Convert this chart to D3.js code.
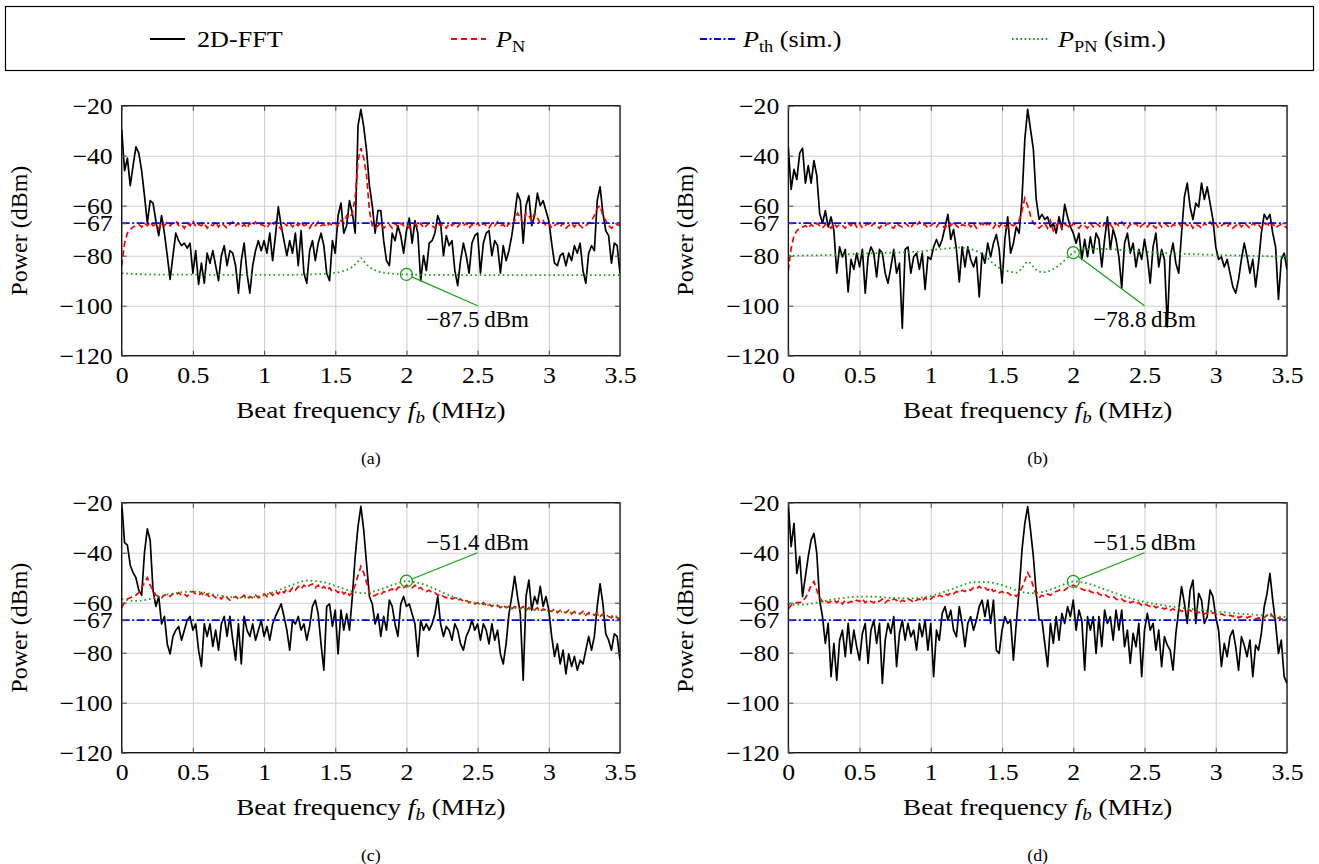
<!DOCTYPE html>
<html><head><meta charset="utf-8">
<script src="https://cdn.jsdelivr.net/npm/d3@7"></script>
<style>
body{margin:0;background:#fff;}
svg{display:block;font-family:"Liberation Serif","Times New Roman",serif;}
</style></head><body>
<svg id="chart" width="1319" height="864" font-family="Liberation Serif, Times New Roman, serif"></svg>
<script>
// ---------------- DATA ----------------
// sampling grid of the 2D-FFT / P_N curves (MHz): 0.00, 0.02, ... 3.50
const freqStep = 0.02;
const freq = d3.range(176).map(i => +(i * freqStep).toFixed(2));

const xTicks = [0, 0.5, 1, 1.5, 2, 2.5, 3, 3.5];
const xTickLabels = ["0", "0.5", "1", "1.5", "2", "2.5", "3", "3.5"];
const yTicks = [-120, -100, -80, -67, -60, -40, -20];
const yTickLabels = ["\u2212120", "\u2212100", "\u221280", "\u221267", "\u221260", "\u221240", "\u221220"];
const yGrid = [-120, -100, -80, -60, -40, -20];
const pTh = -67; // P_th (sim.) level, dBm

// (a)
const fftA = [
 -29.5,-46,-41,-52,-44,-36.5,-39,-46,-56,-67,
 -58,-59,-66,-72,-64,-71,-80,-89.5,-80,-71,
 -74,-76,-75,-77,-75,-87,-78,-91.5,-83,-91,
 -79,-83,-78,-84,-90,-80,-76,-84,-78,-79,
 -84,-95,-82,-75,-87,-95,-84,-78,-74,-78,
 -74,-79,-71,-82,-72,-60.5,-68,-74,-80,-74,
 -79,-71,-84,-70,-87,-91,-78,-74,-82,-75,
 -71,-76,-87,-90,-74,-79,-64,-59,-71,-68,
 -58,-63,-71,-28,-21.5,-28.5,-38,-52,-60,-71,
 -62,-62,-74,-82,-84,-71,-74,-68,-72,-79,
 -70,-65,-75,-66,-71,-90,-80,-86,-75,-74,
 -71,-64,-67,-80,-72,-76,-74,-86,-92,-82,
 -75,-80,-87,-75,-72,-71,-87,-75,-71,-70,
 -80,-74,-76,-87,-76,-82,-78,-72,-64,-55,
 -58,-75,-60,-56,-68,-64,-55,-60,-58,-62,
 -66,-75,-83,-84,-80,-79,-84,-79,-82,-76,
 -79,-75,-86,-91,-79,-76,-78,-58,-52.5,-63,
 -70,-72,-83,-75,-76,-87];
const pnA = [
 -84,-75,-71,-69.5,-68.5,-68,-67.5,-68.5,-67,-68,
 -66.5,-68,-67.5,-69,-67,-68,-66.5,-68,-67,-66,
 -68,-67.5,-69,-67,-68,-66,-68.5,-67.5,-68,-67,
 -69,-67.5,-68,-66.5,-68.5,-67,-68,-69,-67.5,-66.5,
 -68,-67,-68.5,-67.5,-69,-67,-68,-66.5,-68,-67.5,
 -68,-69,-67,-68,-66.5,-68,-69.5,-67,-68,-67,
 -68.5,-67,-68,-66.5,-68,-67.5,-69,-67,-68,-66.5,
 -68,-67.5,-68.5,-67,-68,-67,-68,-66,-67,-64,
 -65,-63,-57,-42,-37,-41,-48,-62,-68,-69,
 -68,-67,-69,-68,-67.5,-69,-67,-68.5,-67,-68,
 -67.5,-69,-68,-67,-68.5,-67,-69,-68,-67,-68,
 -69,-67,-68,-67.5,-69,-67,-68,-67,-68.5,-67,
 -68,-67,-69,-67.5,-68,-67,-68.5,-67,-68,-69,
 -67,-68,-66.5,-68,-67.5,-69,-67,-68,-66,-63,
 -65,-67,-63,-64,-66,-63,-65,-67,-66,-68,
 -67,-69,-68,-67,-68.5,-67,-69,-68,-67,-68.5,
 -67,-68,-69,-68,-67,-66,-64,-61,-60,-64,
 -66,-68,-69,-68,-67.5,-68];
const ppnFreqA = [0,0.2,0.5,0.8,1.1,1.3,1.45,1.55,1.62,1.66,1.68,1.70,1.74,1.80,1.90,2.0,2.3,2.6,3.0,3.5];
const ppnA = [-87,-87.5,-87.6,-87.7,-87.7,-87.5,-87.1,-86.2,-84.5,-82.3,-81,-82.3,-84.5,-86.3,-87.2,-87.5,-87.7,-87.8,-87.8,-87.8];

// (b)
const fftB = [
 -36.5,-53.5,-45.5,-49.5,-39,-37,-51,-44,-51,-42,
 -48,-63,-67,-62,-68.5,-64.5,-70,-87,-76.5,-80.5,
 -77.5,-94.5,-81.5,-85.5,-79,-84.5,-77.5,-95,-80.5,-76.5,
 -79,-88.5,-77.5,-79,-87,-91,-84.5,-77.5,-87,-83,
 -109,-77.5,-76.5,-87,-80.5,-79,-85.5,-79,-93.5,-80.5,
 -81.5,-76.5,-73.5,-76.5,-73.5,-68.5,-63.5,-73.5,-69.5,-77.5,
 -90.5,-76.5,-84.5,-76.5,-81.5,-84.5,-80.5,-96.5,-79,-83,
 -75,-80.5,-75,-71.5,-77.5,-91,-73.5,-64.5,-79,-75,
 -68.5,-71,-57.5,-33.5,-21.5,-29.5,-37.5,-57.5,-65.5,-63.5,
 -65.5,-64.5,-68.5,-67,-71,-64.5,-69.5,-59.5,-64.5,-68.5,
 -71,-75,-71,-81.5,-73.5,-80.5,-72.5,-79,-71,-73.5,
 -84.5,-73.5,-64.5,-77.5,-69.5,-73.5,-80.5,-93,-75,-71,
 -79,-75,-84.5,-77.5,-81.5,-73.5,-80.5,-91,-76.5,-71,
 -84.5,-77.5,-81.5,-108.5,-80.5,-75,-83,-87,-71,-56.5,
 -51,-60.5,-65.5,-59,-60.5,-51,-57.5,-52.5,-59,-65.5,
 -76.5,-81.5,-80.5,-84.5,-81.5,-87,-92.5,-95,-89.5,-81.5,
 -75,-80.5,-87,-81.5,-92.5,-83,-71,-63.5,-65.5,-63.5,
 -71,-76.5,-97.5,-81.5,-79,-85.5];
const pnB = [
 -86,-77,-72,-70,-69,-68.5,-68,-69,-67.5,-68.5,
 -67,-68,-69,-67.5,-68,-69,-67,-68.5,-67.5,-68,
 -69,-67,-68,-66.5,-68.5,-67,-69,-68,-67,-68.5,
 -67,-68,-69,-67.5,-68,-67,-68.5,-69,-67,-68,
 -68.5,-67,-68,-69,-67,-68,-66.5,-68,-67.5,-69,
 -68,-67,-68.5,-67,-68,-69,-67,-68,-66.5,-68,
 -69,-67.5,-68,-67,-68.5,-67,-69,-68,-67,-68.5,
 -67,-68,-69,-67,-68.5,-67,-68,-69,-67.5,-68,
 -67,-66,-62,-57,-60,-64,-67,-68,-69,-68,
 -67,-69,-66,-70,-68,-66,-69,-67.5,-68,-69,
 -67,-68,-69,-67.5,-68,-69,-67,-68.5,-67,-68,
 -69,-67,-68,-67.5,-69,-67,-68,-66.5,-68,-69,
 -67.5,-68,-67,-69,-68,-67,-68.5,-67,-68,-69,
 -67,-68.5,-67,-68,-69,-67.5,-68,-67,-68.5,-67,
 -68,-67,-69,-67.5,-68,-69,-67,-68,-66.5,-68,
 -67,-69,-68,-67,-68.5,-67,-69,-68,-67,-68.5,
 -67,-68,-69,-67,-68,-67.5,-69,-68,-67,-68.5,
 -67,-69,-68,-67.5,-68,-69];
const ppnFreqB = [0,0.3,0.6,0.9,1.1,1.2,1.3,1.35,1.4,1.45,1.5,1.55,1.6,1.64,1.68,1.72,1.76,1.8,1.85,1.9,1.95,2.0,2.05,2.1,2.2,2.4,2.6,2.8,3.0,3.2,3.5];
const ppnB = [-80,-79.7,-79,-78.4,-77.2,-76.8,-77.7,-79,-81,-83.7,-85.4,-86.3,-86.8,-85,-82.4,-84.4,-86.4,-86.6,-85.6,-83.8,-81.3,-78.8,-77.7,-77.3,-77.3,-78,-78.8,-79.3,-79.7,-80,-80.4];

// (c)
const fftC = [
 -19.7,-36,-37,-45,-48,-50,-55,-57,-40,-30.5,
 -35,-55,-61.5,-57.5,-68.5,-65.5,-76.5,-80.5,-73.5,-71,
 -69.5,-75,-71,-67,-65.5,-71,-68.5,-79,-85.5,-68.5,
 -73.5,-68.5,-77.5,-71,-79,-68.5,-65.5,-73.5,-65.5,-75,
 -83,-68.5,-84.5,-65.5,-71,-73.5,-68.5,-75,-71,-67,
 -73.5,-69.5,-75,-68.5,-65.5,-63,-60.5,-65.5,-71,-79,
 -67,-68.5,-65.5,-71,-68.5,-75,-69.5,-61.5,-59,-64.5,
 -76.5,-87,-61.5,-60.5,-69.5,-63,-80.5,-63,-71,-64.5,
 -71,-57.5,-41.5,-29.5,-21.5,-31,-44.5,-57.5,-60.5,-68.5,
 -64.5,-73.5,-65.5,-71,-59,-61.5,-68.5,-73.5,-60.5,-57.5,
 -61.5,-60.5,-64.5,-68.5,-81.5,-67,-71,-68.5,-71,-68.5,
 -64.5,-57.5,-68.5,-73.5,-69.5,-71,-75,-68.5,-71,-76.5,
 -79,-73.5,-71,-67,-71,-68.5,-75,-68.5,-71,-76.5,
 -68.5,-75,-71,-80.5,-84.5,-76.5,-64.5,-57.5,-49.5,-57.5,
 -64.5,-91,-57.5,-51,-63,-57.5,-60.5,-53.5,-61.5,-57.5,
 -63,-73.5,-81.5,-76.5,-84.5,-79,-88.5,-80.5,-85.5,-81.5,
 -87,-83,-84.5,-79,-73.5,-79,-73.5,-61.5,-52.5,-60.5,
 -72.5,-75,-79,-72.5,-73.5,-83];
const pnC = [
 -62,-60,-58.5,-58,-57.5,-57,-56,-54,-52,-50,
 -53,-55,-57,-57.5,-58,-57,-56.5,-57.5,-56.5,-57,
 -56,-57,-56.5,-57.5,-56,-55.5,-56.5,-57,-56,-57.5,
 -56.5,-58,-57,-58,-57.5,-58.5,-57,-58,-59,-58,
 -57.5,-58.5,-58,-57,-58.5,-57.5,-58,-57,-58,-57.5,
 -56.5,-57.5,-56,-57,-55.5,-56.5,-55,-56,-54.5,-55.5,
 -54,-55,-53.5,-54.5,-53,-54,-53,-52.5,-54,-53,
 -54.5,-53.5,-55,-54,-55.5,-55,-56,-55,-56.5,-55.5,
 -57,-56,-53,-49,-45.5,-48,-52,-56,-57.5,-57,
 -56.5,-57,-55.5,-56,-55,-54.5,-55.5,-54,-53.5,-54,
 -53,-53.5,-54,-53,-54.5,-54,-55,-55.5,-55,-56,
 -56,-57,-56.5,-57.5,-58,-57.5,-58.5,-58,-59,-58.5,
 -59.5,-59,-60,-59.5,-60.5,-60,-61,-60,-61,-60.5,
 -61.5,-60.5,-61,-62,-61,-62,-61.5,-62.5,-61.5,-62,
 -62.5,-61.5,-63,-62,-62.5,-63,-62,-63.5,-62.5,-63,
 -63,-63.5,-62.5,-64,-63,-63.5,-64,-63,-64.5,-63.5,
 -64,-64.5,-63.5,-65,-64,-64.5,-65,-64,-65.5,-64.5,
 -65,-65.5,-66,-65,-66,-66.5];
const ppnFreqC = [0,0.1,0.2,0.3,0.4,0.5,0.6,0.7,0.85,1.0,1.1,1.2,1.3,1.4,1.5,1.6,1.7,1.8,1.9,2.0,2.1,2.2,2.3,2.4,2.5,2.6,2.8,3.0,3.2,3.5];
const ppnC = [-58.5,-59.3,-58.5,-57,-56,-55.5,-56.2,-57.3,-58,-57,-55,-52.8,-51.2,-51.6,-53.2,-55.2,-56.2,-55,-53,-51.4,-52.3,-54.5,-57,-59,-60.3,-61.2,-62.3,-63.2,-64.2,-65.6];

// (d)
const fftD = [
 -20.3,-37.6,-28.3,-48.3,-41.6,-57.6,-49.6,-41.6,-35,-32.3,
 -40.3,-59,-65.6,-76.3,-68.3,-89.6,-76.3,-91,-75,-71,
 -81.6,-68.3,-80.3,-71,-77.6,-83,-72.3,-68.3,-84.3,-71,
 -67,-76.3,-68.3,-92.3,-75,-68.3,-72.3,-65.6,-85.6,-72.3,
 -67,-75,-68.3,-73.6,-71,-79,-68.3,-73.6,-67,-79,
 -68.3,-89.6,-71,-75,-64.3,-61.6,-67,-63,-71,-73.6,
 -61.6,-68.3,-77.6,-68.3,-65.6,-71,-67,-61.6,-59,-65.6,
 -59,-68.3,-59,-79,-80.3,-71,-65.6,-68.3,-67,-83,
 -68.3,-55,-39,-28.3,-21.6,-31,-41.6,-56.3,-67,-67,
 -76.3,-85.6,-68.3,-76.3,-65.6,-75,-64.3,-68.3,-61.6,-65.6,
 -59,-71,-63,-67,-87,-65.6,-71,-65.6,-80.3,-65.6,
 -77.6,-63,-68.3,-65.6,-75,-63,-71,-63,-77.6,-71,
 -84.3,-72.3,-77.6,-68.3,-89.6,-71,-64.3,-71,-68.3,-79,
 -71,-85.6,-73.6,-77,-79,-87,-72.3,-63,-53.6,-60.3,
 -68.3,-55,-51,-68.3,-56.3,-59,-68.3,-65.6,-55,-57.6,
 -65.6,-71,-85.6,-76.3,-81.6,-73.6,-71,-77.6,-87,-73.6,
 -77,-81.6,-75,-89.6,-77,-79,-72.3,-61.6,-56.3,-48.3,
 -59,-68.3,-80.3,-75,-89.6,-92.3];
const pnD = [
 -62.5,-61,-60.5,-60,-60,-59.5,-58,-56,-53,-51.5,
 -55,-58,-59.5,-59,-60,-59.5,-59,-60,-59,-60.5,
 -59,-60,-59.5,-60,-59,-59.5,-58.5,-60,-59,-59.5,
 -60,-59,-59.5,-58.5,-60,-59,-59.5,-58.5,-59,-60,
 -59,-59.5,-58.5,-59,-60,-59,-58.5,-59.5,-58,-59,
 -58.5,-57.5,-58,-57,-57.5,-56.5,-57,-56,-56.5,-55.5,
 -56,-55,-55.5,-54.5,-55,-54,-54.5,-53.5,-54.5,-54,
 -55,-54,-55.5,-55,-56,-55.5,-56.5,-56,-57,-56.5,
 -57.5,-56,-54,-51,-48,-50,-53.5,-57,-58,-57,
 -57.5,-56.5,-57,-56,-55.5,-55,-54.5,-55,-54,-53.5,
 -53,-53.5,-54,-54.5,-55,-54.5,-55.5,-56,-55.5,-56.5,
 -57,-56.5,-57.5,-58,-57.5,-58.5,-59,-58.5,-59.5,-59,
 -60,-59.5,-60.5,-60,-61,-60.5,-61,-61.5,-61,-62,
 -61.5,-62,-62.5,-62,-63,-62.5,-63,-62.5,-63.5,-63,
 -63.5,-63,-64,-63.5,-64,-63.5,-64.5,-64,-64.5,-64,
 -64.5,-65,-64.5,-65,-65.5,-65,-65.5,-65,-66,-65.5,
 -65.5,-66,-65.5,-66,-66.5,-66,-66.5,-66,-65,-64,
 -65.5,-66.5,-66,-66.5,-67,-66.5];
const ppnFreqD = [0,0.1,0.2,0.3,0.4,0.5,0.6,0.7,0.85,1.0,1.1,1.2,1.3,1.4,1.5,1.6,1.7,1.8,1.9,2.0,2.1,2.2,2.3,2.4,2.5,2.6,2.8,3.0,3.2,3.5];
const ppnD = [-60.8,-60.8,-60,-58.8,-58,-57.6,-57.6,-58,-58.3,-57.3,-55.5,-53.5,-51.8,-51.8,-53,-55,-56.2,-55.5,-53.5,-51.5,-52.3,-54.2,-56.3,-58.2,-59.7,-60.8,-62.3,-63.5,-64.5,-65.8];

// annotated points (frequency, value) and pin label text
const markFreq = 2.0;
const markValues = [-87.5, -78.8, -51.4, -51.5];
const markLabels = ["\u221287.5\u2009dBm", "\u221278.8\u2009dBm", "\u221251.4\u2009dBm", "\u221251.5\u2009dBm"];
const pinTargets = [[2.5, -100], [2.5, -100], [2.5, -40], [2.5, -40]];
const subLabels = ["(a)", "(b)", "(c)", "(d)"];

// ---------------- STYLE / LAYOUT ----------------
const C = {black: "#000", red: "#ff0000", blue: "#0000ff", green: "#14a014", grid: "#d0d0d0", tick: "#555"};
const FS = {tick: 23, label: 24, legend: 24, pin: 23, sub: 17};
const SX = {tick: 1.12, label: 1.13, legend: 1.09, pin: 1.0, sub: 1.05};
const layout = [
  {x0: 121.7, x1: 620,  y0: 105.7, y1: 355.7},
  {x0: 788.3, x1: 1287, y0: 105.7, y1: 355.7},
  {x0: 121.7, x1: 620,  y0: 502.7, y1: 752.7},
  {x0: 788.3, x1: 1287, y0: 502.7, y1: 752.7}
];
const series = [
  {fft: fftA, pn: pnA, ppnF: ppnFreqA, ppn: ppnA},
  {fft: fftB, pn: pnB, ppnF: ppnFreqB, ppn: ppnB},
  {fft: fftC, pn: pnC, ppnF: ppnFreqC, ppn: ppnC},
  {fft: fftD, pn: pnD, ppnF: ppnFreqD, ppn: ppnD}
];

// horizontal stretch of a text about its anchor point
function stretch(sel, sx) {
  sel.attr("transform", function () {
    const x = +(this.getAttribute("x") || 0), y = +(this.getAttribute("y") || 0);
    return `translate(${x},${y}) scale(${sx},1) translate(${-x},${-y})`;
  });
}

const svg = d3.select("#chart");
const defs = svg.append("defs");

// ---------------- LEGEND ----------------
const leg = svg.append("g");
leg.append("rect").attr("x", 5.5).attr("y", 6.5).attr("width", 1308).attr("height", 64)
  .attr("fill", "none").attr("stroke", "#000").attr("stroke-width", 1.2);
const legendItems = [
  {x1: 150, x2: 185, tx: 197, color: C.black, dash: null, w: 1.8, kind: "fft"},
  {x1: 451, x2: 486, tx: 496, color: C.red, dash: "6,4", w: 1.8, kind: "pn"},
  {x1: 700, x2: 735, tx: 743, color: C.blue, dash: "7,2.5,2,2.5", w: 1.8, kind: "th"},
  {x1: 1012, x2: 1048, tx: 1058, color: C.green, dash: "1.6,2.6", w: 1.8, kind: "ppn"}
];
legendItems.forEach(it => {
  leg.append("line").attr("x1", it.x1).attr("x2", it.x2).attr("y1", 39).attr("y2", 39)
    .attr("stroke", it.color).attr("stroke-width", it.w).attr("stroke-dasharray", it.dash);
  const t = leg.append("text").attr("x", it.tx).attr("y", 47).attr("font-size", FS.legend);
  if (it.kind === "fft") t.text("2D-FFT");
  else {
    t.append("tspan").attr("font-style", "italic").text("P");
    const sub = it.kind === "pn" ? "N" : it.kind === "th" ? "th" : "PN";
    t.append("tspan").attr("font-size", FS.legend * 0.7).attr("dy", 5).text(sub);
    if (it.kind !== "pn") t.append("tspan").attr("dy", -5).text("\u00a0(sim.)");
  }
  stretch(t, SX.legend);
});

// ---------------- PANELS ----------------
layout.forEach((L, k) => {
  const S = series[k];
  const g = svg.append("g");
  const x = d3.scaleLinear().domain([0, 3.5]).range([L.x0, L.x1]);
  const y = d3.scaleLinear().domain([-120, -20]).range([L.y1, L.y0]);
  const W = L.x1 - L.x0, H = L.y1 - L.y0;

  // grid
  g.append("g").attr("transform", `translate(0,${L.y1})`)
    .call(d3.axisBottom(x).tickValues(xTicks).tickSize(-H).tickFormat(""))
    .call(s => { s.select(".domain").remove(); s.selectAll("line").attr("stroke", C.grid).attr("stroke-width", 1.1); });
  g.append("g").attr("transform", `translate(${L.x0},0)`)
    .call(d3.axisLeft(y).tickValues(yGrid).tickSize(-W).tickFormat(""))
    .call(s => { s.select(".domain").remove(); s.selectAll("line").attr("stroke", C.grid).attr("stroke-width", 1.1); });

  // clip
  const cid = "clip" + k;
  defs.append("clipPath").attr("id", cid).append("rect")
    .attr("x", L.x0).attr("y", L.y0).attr("width", W).attr("height", H);
  const plot = g.append("g").attr("clip-path", `url(#${cid})`);

  const line = d3.line().x(d => x(d[0])).y(d => y(d[1]));
  const smooth = d3.line().x(d => x(d[0])).y(d => y(d[1])).curve(d3.curveMonotoneX);

  plot.append("path").datum(freq.map((f, i) => [f, S.fft[i]])).attr("d", line)
    .attr("fill", "none").attr("stroke", C.black).attr("stroke-width", 1.7).attr("stroke-linejoin", "round");
  plot.append("path").datum(freq.map((f, i) => [f, S.pn[i]])).attr("d", line)
    .attr("fill", "none").attr("stroke", C.red).attr("stroke-width", 1.7).attr("stroke-dasharray", "6,3.5");
  plot.append("path").datum([[0, pTh], [3.5, pTh]]).attr("d", line)
    .attr("fill", "none").attr("stroke", C.blue).attr("stroke-width", 1.7).attr("stroke-dasharray", "8,2.5,2,2.5");
  plot.append("path").datum(S.ppnF.map((f, i) => [f, S.ppn[i]])).attr("d", smooth)
    .attr("fill", "none").attr("stroke", C.green).attr("stroke-width", 1.8).attr("stroke-dasharray", "1.6,3");

  // frame
  g.append("rect").attr("x", L.x0).attr("y", L.y0).attr("width", W).attr("height", H)
    .attr("fill", "none").attr("stroke", "#000").attr("stroke-width", 1.2);

  // tick marks (inside, all four sides) + labels
  const tickStyle = s => { s.select(".domain").remove(); s.selectAll("line").attr("stroke", C.tick).attr("stroke-width", 1.1); };
  const labelStyle = s => {
    s.attr("font-family", null).attr("font-size", null);
    const t = s.selectAll("text").attr("font-size", FS.tick).attr("fill", "#000");
    stretch(t, SX.tick);
  };
  g.append("g").attr("transform", `translate(0,${L.y1})`)
    .call(d3.axisBottom(x).tickValues(xTicks).tickSizeInner(-5).tickSizeOuter(0)
      .tickPadding(11).tickFormat((d, i) => xTickLabels[i]))
    .call(tickStyle).call(labelStyle);
  g.append("g").attr("transform", `translate(0,${L.y0})`)
    .call(d3.axisTop(x).tickValues(xTicks).tickSizeInner(-5).tickSizeOuter(0).tickFormat(""))
    .call(tickStyle);
  g.append("g").attr("transform", `translate(${L.x0},0)`)
    .call(d3.axisLeft(y).tickValues(yTicks).tickSizeInner(-5).tickSizeOuter(0)
      .tickPadding(9).tickFormat((d, i) => yTickLabels[i]))
    .call(tickStyle).call(labelStyle);
  g.append("g").attr("transform", `translate(${L.x1},0)`)
    .call(d3.axisRight(y).tickValues(yTicks).tickSizeInner(-5).tickSizeOuter(0).tickFormat(""))
    .call(tickStyle);

  // axis labels
  const xl = g.append("text").attr("x", (L.x0 + L.x1) / 2).attr("y", L.y1 + 62)
    .attr("text-anchor", "middle").attr("font-size", FS.label);
  xl.append("tspan").text("Beat frequency ");
  xl.append("tspan").attr("font-style", "italic").text("f");
  xl.append("tspan").attr("font-style", "italic").attr("font-size", FS.label * 0.7).attr("dy", 5).text("b");
  xl.append("tspan").attr("dy", -5).text("\u00a0(MHz)");
  stretch(xl, SX.label);

  g.append("text").attr("transform", `translate(${L.x0 - 95},${(L.y0 + L.y1) / 2}) rotate(-90)`)
    .attr("text-anchor", "middle").attr("font-size", FS.label).text("Power (dBm)");

  // sub caption
  const sc = g.append("text").attr("x", (L.x0 + L.x1) / 2).attr("y", L.y1 + 108)
    .attr("text-anchor", "middle").attr("font-size", FS.sub).text(subLabels[k]);
  stretch(sc, SX.sub);

  // annotation pin
  const cx = x(markFreq), cy = y(markValues[k]);
  const tx = x(pinTargets[k][0]), ty = y(pinTargets[k][1]);
  const r = 6;
  const len = Math.hypot(tx - cx, ty - cy);
  g.append("line").attr("x1", cx + (tx - cx) / len * r).attr("y1", cy + (ty - cy) / len * r)
    .attr("x2", tx).attr("y2", ty).attr("stroke", C.green).attr("stroke-width", 1.2);
  g.append("circle").attr("cx", cx).attr("cy", cy).attr("r", r)
    .attr("fill", "none").attr("stroke", C.green).attr("stroke-width", 1.2);
  const below = pinTargets[k][1] < markValues[k];
  g.append("text").attr("x", tx).attr("y", below ? ty + 21 : ty - 3)
    .attr("text-anchor", "middle").attr("font-size", FS.pin).text(markLabels[k]);
});
</script>
</body></html>
